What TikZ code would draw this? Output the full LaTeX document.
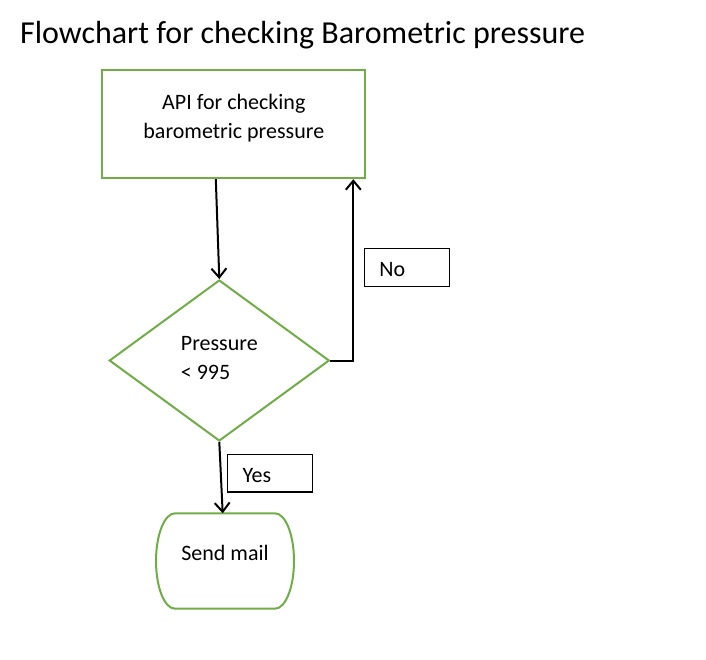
\documentclass[tikz,border=0pt]{standalone}
\usepackage{fontspec}
\setmainfont{Carlito}
\usetikzlibrary{arrows.meta,shapes.geometric}
\definecolor{officegreen}{RGB}{112,173,71}
\begin{document}
\begin{tikzpicture}[x=1pt,y=1pt,
		font=\fontsize{22}{29}\selectfont,
		process/.style={draw=officegreen,line width=2pt,minimum width=263pt,minimum height=108pt,align=center,text height=37.6pt,text depth=10pt},
		decision/.style={diamond,draw=officegreen,line width=2pt,minimum width=220pt,minimum height=161pt,inner sep=0pt,align=left,text height=41pt,text depth=4pt},
		terminal/.style={minimum width=100pt,minimum height=95.4pt,outer sep=0pt,text height=14pt,text depth=16pt},
		answer/.style={draw=black,line width=1.3pt,text width=55pt,inner xsep=15pt,minimum height=37.6pt,text height=18pt,text depth=0pt,align=left},
		link/.style={draw=black,line width=2pt,-{Straight Barb[length=9pt,width=15pt]}}]
		\useasboundingbox (0,0) rectangle (706,-659);

		\node[anchor=base west,inner sep=0pt,font=\fontsize{32}{38}\selectfont] (title) at (20,-43) {Flowchart for checking Barometric pressure};

		\node[process] (api) at (233.8,-124.2) {API for checking\\barometric pressure};
		\node[decision] (check) at (219.3,-360.5) {Pressure\\< 995};
		\node[terminal] (mail) at (225,-561) {Send mail};
		\draw[officegreen,line width=2pt] (mail.north west) -- (mail.north east)
			arc[start angle=90,end angle=-90,x radius=19,y radius=47.7] -- (mail.south west)
			arc[start angle=270,end angle=90,x radius=19,y radius=47.7] -- cycle;

		\node[answer] (no) at (406.8,-267.5) {No};
		\node[answer] (yes) at (270,-473.3) {Yes};

		\draw[link] ([xshift=-18pt]api.south) -- (check.north);
		\draw[link] (check.east) -| ([xshift=119.5pt]api.south);
		\draw[link] (check.south) -- ([xshift=-2.3pt]mail.north);
	\end{tikzpicture}
\end{document}
